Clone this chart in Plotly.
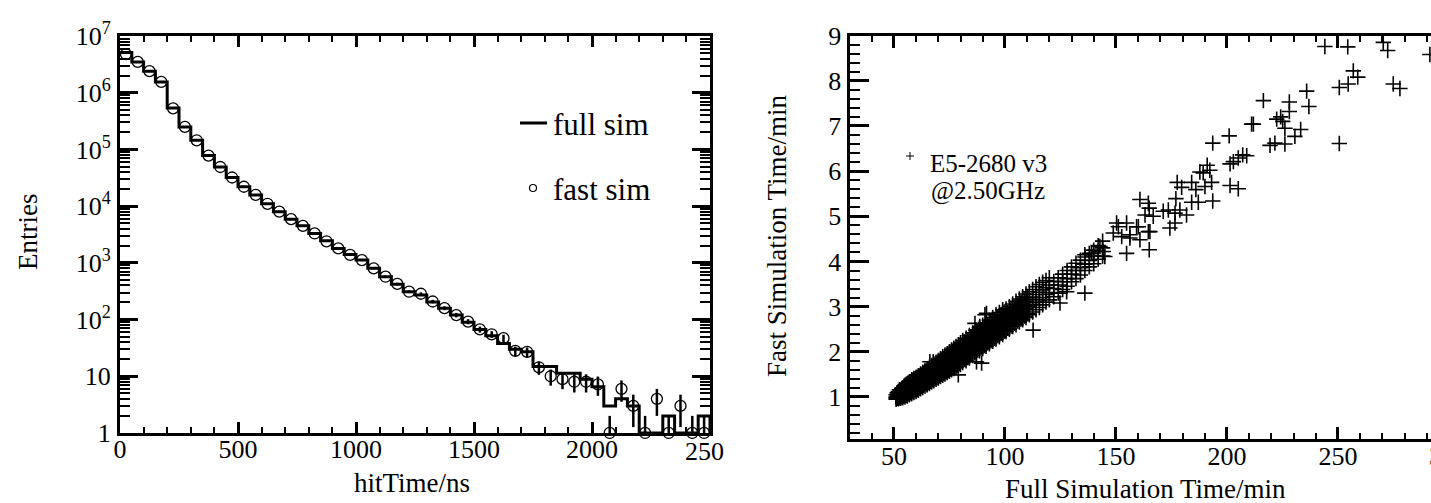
import plotly.graph_objects as go

# ---------------- data: left panel (hitTime histogram, 50 ns bins) ----------------
bin_width = 50
bin_low_edge = list(range(0, 2500, bin_width))
full_sim = [5.1e6, 3.5e6, 2.4e6, 1.55e6, 5.4e5, 2.5e5, 1.45e5, 7.8e4, 4.9e4, 3.2e4,
            2.2e4, 1.58e4, 1.1e4, 8.0e3, 5.9e3, 4.5e3, 3.3e3, 2.45e3, 1.8e3, 1.4e3,
            1.12e3, 800, 570, 420, 310, 270, 205, 158, 120, 90,
            67, 52, 38, 30, 27, 14.8, 14.8, 11.3, 11.3, 8.9,
            6.5, 3, 4, 3, 1, 1, 2, 1, 1, 2]
fast_sim = [4.8e6, 3.5e6, 2.4e6, 1.55e6, 5.3e5, 2.5e5, 1.45e5, 7.8e4, 4.9e4, 3.2e4,
            2.2e4, 1.58e4, 1.1e4, 8.0e3, 5.9e3, 4.5e3, 3.3e3, 2.4e3, 1.8e3, 1.38e3,
            1.12e3, 800, 570, 425, 310, 285, 208, 159, 120, 92,
            67, 55, 47, 28, 27, 14.4, 10, 8.9, 8, 8,
            7.2, 1, 6, 3, 1, 4, 1, 3, 1, 1]

# ---------------- data: right panel (fast vs full simulation time) ----------------
full_time = [
    51, 51, 51, 51,
    52, 52, 52, 52, 52,
    53, 53, 53, 53, 53, 53,
    54, 54, 54, 54, 54, 54,
    55, 55, 55, 55, 55, 55,
    56, 56, 56, 56, 56, 56,
    57, 57, 57, 57, 57, 57,
    58, 58, 58, 58, 58, 58,
    59, 59, 59, 59, 59, 59,
    60, 60, 60, 60, 60, 60,
    61, 61, 61, 61, 61, 61,
    62, 62, 62, 62, 62, 62,
    63, 63, 63, 63, 63, 63,
    64, 64, 64, 64, 64, 64,
    65, 65, 65, 65, 65, 65,
    66, 66, 66, 66, 66, 66,
    67, 67, 67, 67, 67, 67,
    68, 68, 68, 68, 68, 68,
    69, 69, 69, 69, 69, 69,
    70, 70, 70, 70, 70, 70,
    71, 71, 71, 71, 71, 71,
    72, 72, 72, 72, 72, 72,
    73, 73, 73, 73, 73, 73,
    74, 74, 74, 74, 74, 74,
    75, 75, 75, 75, 75, 75,
    76, 76, 76, 76, 76, 76,
    77, 77, 77, 77, 77, 77,
    78, 78, 78, 78, 78, 78,
    79, 79, 79, 79, 79, 79,
    80, 80, 80, 80, 80, 80,
    81, 81, 81, 81, 81,
    82.5, 82.5, 82.5, 82.5, 82.5,
    84, 84, 84, 84, 84,
    85.5, 85.5, 85.5, 85.5, 85.5,
    87, 87, 87, 87, 87,
    88.5, 88.5, 88.5, 88.5, 88.5,
    90, 90, 90, 90, 90,
    91.5, 91.5, 91.5, 91.5, 91.5,
    93, 93, 93, 93, 93,
    94.5, 94.5, 94.5, 94.5, 94.5,
    96, 96, 96, 96, 96,
    97.5, 97.5, 97.5, 97.5, 97.5,
    99, 99, 99, 99, 99,
    100.5, 100.5, 100.5, 100.5,
    102, 102, 102, 102,
    103.5, 103.5, 103.5, 103.5,
    105, 105, 105, 105,
    106.5, 106.5, 106.5, 106.5,
    108, 108, 108, 108,
    109.5, 109.5, 109.5, 109.5,
    111, 111, 111, 111,
    112.5, 112.5, 112.5, 112.5,
    114, 114, 114, 114,
    115.5, 115.5, 115.5, 115.5,
    117, 117, 117, 117,
    118.5, 118.5, 118.5, 118.5,
    120, 120, 120, 120,
    122, 122, 122,
    124, 124, 124,
    126, 126, 126,
    128, 128, 128,
    130, 130, 130,
    132, 132, 132,
    134, 134, 134,
    136, 136, 136,
    138, 138, 138,
    140, 140, 140,
    142, 142, 142,
    144, 144, 144,
    # in-between jobs of the dense band
    51.5, 51.5, 51.5,
    52.5, 52.5, 52.5, 52.5,
    53.5, 53.5, 53.5, 53.5,
    54.5, 54.5, 54.5, 54.5,
    55.5, 55.5, 55.5, 55.5,
    56.5, 56.5, 56.5, 56.5,
    57.5, 57.5, 57.5, 57.5,
    58.5, 58.5, 58.5, 58.5,
    59.5, 59.5, 59.5, 59.5,
    60.5, 60.5, 60.5, 60.5,
    61.5, 61.5, 61.5, 61.5,
    62.5, 62.5, 62.5, 62.5,
    63.5, 63.5, 63.5, 63.5,
    64.5, 64.5, 64.5, 64.5,
    65.5, 65.5, 65.5, 65.5,
    66.5, 66.5, 66.5, 66.5,
    67.5, 67.5, 67.5, 67.5,
    68.5, 68.5, 68.5, 68.5,
    69.5, 69.5, 69.5, 69.5,
    70.5, 70.5, 70.5, 70.5,
    71.5, 71.5, 71.5, 71.5,
    72.5, 72.5, 72.5, 72.5,
    73.5, 73.5, 73.5, 73.5,
    74.5, 74.5, 74.5, 74.5,
    75.5, 75.5, 75.5, 75.5,
    76.5, 76.5, 76.5, 76.5,
    77.5, 77.5, 77.5, 77.5,
    78.5, 78.5, 78.5, 78.5,
    79.5, 79.5, 79.5, 79.5,
    81.75, 81.75, 81.75, 81.75,
    83.25, 83.25, 83.25, 83.25,
    84.75, 84.75, 84.75, 84.75,
    86.25, 86.25, 86.25, 86.25,
    87.75, 87.75, 87.75, 87.75,
    89.25, 89.25, 89.25, 89.25,
    90.75, 90.75, 90.75, 90.75,
    92.25, 92.25, 92.25, 92.25,
    93.75, 93.75, 93.75, 93.75,
    95.25, 95.25, 95.25, 95.25,
    96.75, 96.75, 96.75, 96.75,
    98.25, 98.25, 98.25, 98.25,
    99.75, 99.75, 99.75, 99.75,
    101.25, 101.25, 101.25,
    102.75, 102.75, 102.75,
    104.25, 104.25, 104.25,
    105.75, 105.75, 105.75,
    107.25, 107.25, 107.25,
    108.75, 108.75, 108.75,
    110.25, 110.25, 110.25,
    # sparse points / outliers
    244.1, 254.4, 270.4, 272.4, 291.4, 256.9, 258.9, 254.6, 250.6, 274.9, 277.9,
    235.9, 236.9, 216.4, 228.1, 228.1, 211.1, 211.9, 222.4, 224.2, 225.1, 226.1,
    233.2, 230.6, 219.4, 221.6, 226.1, 250.6, 201.0, 193.6,
    201.4, 202.9, 205.1, 207.1, 208.9, 201.4, 205.1,
    187.8, 189.3, 191.1, 192.3, 177.6, 179.6, 184.1, 186.0, 190.1, 193.1,
    177.0, 184.1, 187.1, 193.6, 160.8, 164.6, 165.0, 163.1, 166.8,
    171.3, 173.6, 176.6, 178.8, 181.8, 174.3, 176.6, 165.3, 160.1, 154.8, 150.3,
    165.0, 154.8, 160.8, 156.3, 152.6, 136.0, 139.0, 142.8, 144.3, 145.0,
    148.8, 151.1, 156.3, 159.3, 164.6,
    124.8, 136.0, 127.8, 112.7, 88.7, 91.7, 89.5, 87.2, 67.7, 79.0, 66.2, 86.5, 91.0,
]
fast_time = [
    0.95, 1.00, 1.05, 0.98,
    0.96, 1.02, 1.08, 1.12, 0.99,
    0.97, 1.03, 1.10, 1.15, 1.00, 1.06,
    0.98, 1.05, 1.12, 1.20, 1.08, 1.02,
    1.00, 1.08, 1.14, 1.22, 1.26, 1.04,
    1.02, 1.10, 1.17, 1.25, 1.30, 1.06,
    1.05, 1.12, 1.20, 1.28, 1.34, 1.16,
    1.07, 1.15, 1.23, 1.30, 1.38, 1.19,
    1.10, 1.18, 1.26, 1.34, 1.41, 1.22,
    1.12, 1.21, 1.29, 1.37, 1.44, 1.25,
    1.15, 1.24, 1.32, 1.40, 1.47, 1.29,
    1.18, 1.27, 1.35, 1.43, 1.51, 1.31,
    1.21, 1.30, 1.39, 1.47, 1.55, 1.36,
    1.24, 1.33, 1.42, 1.50, 1.58, 1.38,
    1.27, 1.37, 1.45, 1.54, 1.62, 1.42,
    1.30, 1.40, 1.49, 1.57, 1.66, 1.46,
    1.33, 1.43, 1.52, 1.61, 1.70, 1.50,
    1.36, 1.46, 1.56, 1.64, 1.73, 1.53,
    1.39, 1.50, 1.59, 1.68, 1.77, 1.57,
    1.42, 1.53, 1.63, 1.72, 1.81, 1.60,
    1.45, 1.56, 1.66, 1.76, 1.85, 1.64,
    1.48, 1.59, 1.70, 1.79, 1.89, 1.67,
    1.51, 1.63, 1.73, 1.83, 1.93, 1.71,
    1.54, 1.66, 1.77, 1.86, 1.96, 1.75,
    1.57, 1.69, 1.80, 1.90, 2.00, 1.78,
    1.60, 1.72, 1.84, 1.94, 2.04, 1.82,
    1.63, 1.76, 1.87, 1.98, 2.08, 1.86,
    1.66, 1.79, 1.91, 2.02, 2.12, 1.89,
    1.69, 1.82, 1.94, 2.05, 2.16, 1.93,
    1.72, 1.85, 1.98, 2.09, 2.20, 1.96,
    1.76, 1.90, 2.01, 2.13, 2.25,
    1.80, 1.95, 2.06, 2.18, 2.30,
    1.86, 2.00, 2.12, 2.24, 2.36,
    1.92, 2.05, 2.17, 2.29, 2.42,
    1.97, 2.10, 2.22, 2.35, 2.48,
    2.02, 2.15, 2.27, 2.40, 2.53,
    2.07, 2.21, 2.33, 2.46, 2.59,
    2.12, 2.26, 2.38, 2.51, 2.64,
    2.18, 2.31, 2.44, 2.57, 2.70,
    2.23, 2.37, 2.49, 2.62, 2.76,
    2.28, 2.42, 2.55, 2.68, 2.82,
    2.33, 2.47, 2.60, 2.73, 2.87,
    2.38, 2.52, 2.65, 2.79, 2.93,
    2.45, 2.62, 2.78, 2.95,
    2.50, 2.68, 2.84, 3.00,
    2.56, 2.73, 2.90, 3.06,
    2.60, 2.78, 2.95, 3.12,
    2.66, 2.83, 3.01, 3.17,
    2.71, 2.89, 3.05, 3.22,
    2.76, 2.94, 3.11, 3.28,
    2.82, 3.00, 3.16, 3.33,
    2.88, 3.05, 3.21, 3.38,
    2.93, 3.10, 3.27, 3.44,
    2.98, 3.15, 3.32, 3.49,
    3.04, 3.20, 3.37, 3.54,
    3.10, 3.27, 3.42, 3.58,
    3.15, 3.31, 3.48, 3.64,
    3.22, 3.40, 3.56,
    3.30, 3.48, 3.64,
    3.38, 3.55, 3.72,
    3.45, 3.62, 3.80,
    3.55, 3.72, 3.88,
    3.62, 3.80, 3.96,
    3.70, 3.86, 4.03,
    3.80, 3.94, 4.10,
    3.88, 4.02, 4.18,
    3.95, 4.12, 4.25,
    4.05, 4.22, 4.35,
    4.12, 4.30, 4.45,
    # in-between jobs of the dense band
    0.97, 1.03, 1.09,
    0.98, 1.05, 1.11, 1.16,
    1.00, 1.07, 1.14, 1.19,
    1.02, 1.10, 1.17, 1.24,
    1.04, 1.12, 1.20, 1.28,
    1.07, 1.15, 1.22, 1.31,
    1.09, 1.17, 1.25, 1.34,
    1.12, 1.20, 1.28, 1.37,
    1.14, 1.23, 1.31, 1.40,
    1.17, 1.26, 1.34, 1.43,
    1.20, 1.29, 1.37, 1.46,
    1.23, 1.32, 1.40, 1.49,
    1.26, 1.35, 1.44, 1.53,
    1.29, 1.38, 1.47, 1.56,
    1.32, 1.42, 1.50, 1.60,
    1.35, 1.45, 1.54, 1.63,
    1.38, 1.48, 1.57, 1.67,
    1.41, 1.52, 1.61, 1.70,
    1.44, 1.55, 1.64, 1.74,
    1.47, 1.58, 1.68, 1.78,
    1.50, 1.61, 1.72, 1.82,
    1.53, 1.65, 1.75, 1.85,
    1.56, 1.68, 1.79, 1.89,
    1.59, 1.71, 1.82, 1.93,
    1.62, 1.75, 1.86, 1.97,
    1.65, 1.78, 1.89, 2.00,
    1.68, 1.81, 1.93, 2.04,
    1.71, 1.85, 1.96, 2.08,
    1.74, 1.88, 2.00, 2.11,
    1.83, 1.98, 2.10, 2.22,
    1.88, 2.03, 2.15, 2.27,
    1.93, 2.08, 2.20, 2.33,
    1.98, 2.13, 2.26, 2.38,
    2.04, 2.18, 2.31, 2.44,
    2.09, 2.24, 2.36, 2.49,
    2.14, 2.29, 2.42, 2.55,
    2.20, 2.34, 2.47, 2.60,
    2.25, 2.40, 2.52, 2.66,
    2.30, 2.45, 2.58, 2.71,
    2.36, 2.50, 2.63, 2.77,
    2.41, 2.56, 2.69, 2.82,
    2.46, 2.61, 2.74, 2.88,
    2.52, 2.70, 2.87,
    2.57, 2.76, 2.93,
    2.63, 2.82, 2.98,
    2.68, 2.87, 3.04,
    2.73, 2.92, 3.10,
    2.79, 2.97, 3.15,
    2.84, 3.02, 3.20,
    # sparse points / outliers
    8.76, 8.75, 8.85, 8.67, 8.58, 8.22, 8.08, 7.93, 7.85, 7.93, 7.83,
    7.77, 7.43, 7.56, 7.53, 7.32, 7.04, 7.04, 7.15, 7.20, 7.10, 6.95,
    6.92, 6.77, 6.57, 6.62, 6.60, 6.61, 6.78, 6.62,
    6.16, 6.21, 6.29, 6.36, 6.34, 5.68, 5.61,
    5.98, 5.96, 6.13, 6.02, 5.75, 5.64, 5.75, 5.59, 5.66, 5.75,
    5.39, 5.31, 5.31, 5.34, 5.37, 5.29, 5.18, 5.03, 5.00,
    5.11, 5.14, 5.07, 5.14, 5.03, 4.74, 4.85, 4.66, 4.77, 4.85, 4.85,
    4.26, 4.18, 4.48, 4.52, 4.55, 4.15, 4.18, 4.33, 4.22, 4.11,
    4.63, 4.77, 4.59, 4.77, 4.66,
    3.08, 3.30, 3.33, 2.48, 2.56, 2.85, 1.75, 1.78, 1.78, 1.49, 1.78, 2.63, 2.82,
]

left_x_ticks = [0, 500, 1000, 1500, 2000]
left_y_ticks = [1, 10, 1e2, 1e3, 1e4, 1e5, 1e6, 1e7]
left_y_text = ["1", "10", "10<sup>2</sup>", "10<sup>3</sup>", "10<sup>4</sup>",
               "10<sup>5</sup>", "10<sup>6</sup>", "10<sup>7</sup>"]
right_x_ticks = [50, 100, 150, 200, 250]
right_y_ticks = [1, 2, 3, 4, 5, 6, 7, 8, 9]

# ---------------- figure ----------------
W, H = 1431, 503
FONT = "Liberation Serif, Times New Roman, Times, serif"


def px(x):
    return x / W


def py(y):
    return 1 - y / H


fig = go.Figure()

# histogram step line (full sim)
step_x = bin_low_edge + [bin_low_edge[-1] + bin_width, bin_low_edge[-1] + bin_width]
step_y = full_sim + [full_sim[-1], 1]
fig.add_trace(go.Scatter(x=step_x, y=step_y, mode="lines", line_shape="hv",
                         line=dict(color="black", width=3), xaxis="x", yaxis="y",
                         showlegend=False, cliponaxis=False))

# fast sim points with sqrt(N) errors
centers = [e + bin_width / 2 for e in bin_low_edge]
err_up = [v ** 0.5 for v in fast_sim]
err_dn = [min(v ** 0.5, v - 1) for v in fast_sim]
fig.add_trace(go.Scatter(x=centers, y=fast_sim, mode="markers",
                         marker=dict(symbol="circle-open", size=11, color="black",
                                     line=dict(width=1.3, color="black")),
                         error_y=dict(type="data", array=err_up, arrayminus=err_dn,
                                      color="black", thickness=2.5, width=0),
                         xaxis="x", yaxis="y", showlegend=False, cliponaxis=False))

# scatter (right)
fig.add_trace(go.Scatter(x=full_time, y=fast_time, mode="markers",
                         marker=dict(symbol="cross-thin", size=11, color="black",
                                     line=dict(width=1.6, color="black")),
                         xaxis="x2", yaxis="y2", showlegend=False))

tickfont = dict(family=FONT, size=26, color="black")
log_minor = [m * 10 ** d for d in range(0, 7) for m in range(2, 10)]

fig.update_layout(
    width=W, height=H, margin=dict(l=0, r=0, t=0, b=0),
    template="none", paper_bgcolor="white", plot_bgcolor="white",
    font=dict(family=FONT, color="black"),
    xaxis=dict(domain=[px(120), px(710)], range=[0, 2500], anchor="y",
               tickmode="array", tickvals=left_x_ticks, ticks="inside",
               ticklen=11, tickwidth=2.5, tickcolor="black",
               minor=dict(tickmode="linear", tick0=0, dtick=100, ticks="inside",
                          ticklen=6, tickwidth=2, tickcolor="black"),
               showline=True, linewidth=3, linecolor="black", mirror="ticks",
               showgrid=False, zeroline=False, tickfont=tickfont,
               ticklabelstandoff=-9, automargin=False),
    yaxis=dict(domain=[py(433), py(36)], type="log", range=[-0.0005, 7.0005],
               anchor="x", tickmode="array", tickvals=left_y_ticks,
               ticktext=left_y_text, ticks="inside", ticklen=18, tickwidth=2.5,
               tickcolor="black",
               minor=dict(tickmode="array", tickvals=log_minor, ticks="inside",
                          ticklen=10, tickwidth=2, tickcolor="black"),
               showline=True, linewidth=3, linecolor="black", mirror="ticks",
               showgrid=False, zeroline=False, tickfont=tickfont,
               ticklabelstandoff=1, automargin=False),
    xaxis2=dict(domain=[px(849.5), 1.0], range=[30, 291.9], anchor="y2",
                tickmode="array", tickvals=right_x_ticks, ticks="inside",
                ticklen=12, tickwidth=2.5, tickcolor="black",
                minor=dict(tickmode="linear", tick0=0, dtick=10, ticks="inside",
                           ticklen=6, tickwidth=2, tickcolor="black"),
                showline=True, linewidth=3, linecolor="black", mirror="ticks",
                showgrid=False, zeroline=False, tickfont=tickfont,
                ticklabelstandoff=-8, automargin=False),
    yaxis2=dict(domain=[py(439), py(35.5)], range=[0.07, 9.002], anchor="x2",
                tickmode="array", tickvals=right_y_ticks, ticks="inside",
                ticklen=19, tickwidth=2.5, tickcolor="black",
                minor=dict(tickmode="linear", tick0=0, dtick=0.2, ticks="inside",
                           ticklen=10, tickwidth=2, tickcolor="black"),
                showline=True, linewidth=3, linecolor="black", mirror=False,
                showgrid=False, zeroline=False, tickfont=tickfont,
                ticklabelstandoff=0, automargin=False),
)


def ann(text, x, y, size, xanchor="center", angle=0):
    fig.add_annotation(text=text, x=px(x), y=py(y), xref="paper", yref="paper",
                       showarrow=False, xanchor=xanchor, yanchor="middle",
                       textangle=angle,
                       font=dict(family=FONT, size=size, color="black"))


# axis titles
ann("Entries", 28, 232, 27, angle=-90)
ann("hitTime/ns", 412, 483, 27)
ann("Fast Simulation Time/min", 777, 236, 27, angle=-90)
ann("Full Simulation Time/min", 1145, 489, 27)
# edge tick labels that are clipped in the original
ann("250", 683, 451, 26, xanchor="left")
ann("300", 1427, 456, 26, xanchor="left")

# legend, left panel
fig.add_shape(type="line", xref="paper", yref="paper", x0=px(520), x1=px(547),
              y0=py(123), y1=py(123), line=dict(color="black", width=3))
ann("full sim", 551, 124, 31, xanchor="left")
fig.add_shape(type="circle", xref="paper", yref="paper", x0=px(529.5), x1=px(536.5),
              y0=py(184.5), y1=py(191.5), line=dict(color="black", width=1.2))
ann("fast sim", 551, 190, 31, xanchor="left")

# legend, right panel
fig.add_shape(type="line", xref="paper", yref="paper", x0=px(906), x1=px(914),
              y0=py(156), y1=py(156), line=dict(color="black", width=1))
fig.add_shape(type="line", xref="paper", yref="paper", x0=px(910), x1=px(910),
              y0=py(152), y1=py(160), line=dict(color="black", width=1))
ann("E5-2680 v3", 988, 164, 25)
ann("@2.50GHz", 988, 191, 25)

fig.write_html("out.html")
